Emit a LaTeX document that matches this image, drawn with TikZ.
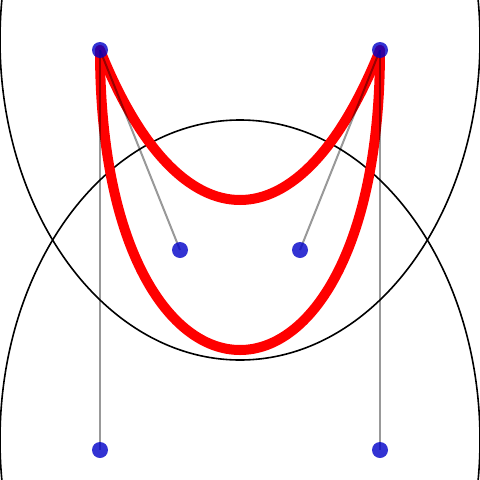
\documentclass[tikz,border=0pt]{standalone}
\begin{document}
\begin{tikzpicture}[x=1pt,y=-1pt,
  outline/.style={draw=black,line width=1.6pt},
  curve/.style={draw=red,line width=10pt,line cap=round},
  handle/.style={draw=black,draw opacity=0.4,line width=2pt},
  dot/.style={circle,fill={rgb,255:red,0;green,0;blue,200},fill opacity=0.8,inner sep=0pt,minimum size=16pt}]
\useasboundingbox (0,0) rectangle (480,480);
\clip (0,0) rectangle (480,480);
\draw[outline] (240,40) ellipse [x radius=240, y radius=320];
\draw[outline] (240,440) ellipse [x radius=240, y radius=320];
\coordinate (p0) at (100,50);
\coordinate (p3) at (380,50);
\coordinate (c1) at (180,250);
\coordinate (c2) at (300,250);
\coordinate (d1) at (100,450);
\coordinate (d2) at (380,450);
\draw[curve] (p0) .. controls (c1) and (c2) .. (p3);
\draw[curve] (p0) .. controls (d1) and (d2) .. (p3);
\draw[handle] (p0) -- (c1);
\draw[handle] (p3) -- (c2);
\draw[handle] (p0) -- (d1);
\draw[handle] (p3) -- (d2);
\node[dot] (n0) at (p0) {};
\node[dot] (n3) at (p3) {};
\node[dot] (n1) at (c1) {};
\node[dot] (n2) at (c2) {};
\node[dot] (m1) at (d1) {};
\node[dot] (m2) at (d2) {};
\end{tikzpicture}
\end{document}
